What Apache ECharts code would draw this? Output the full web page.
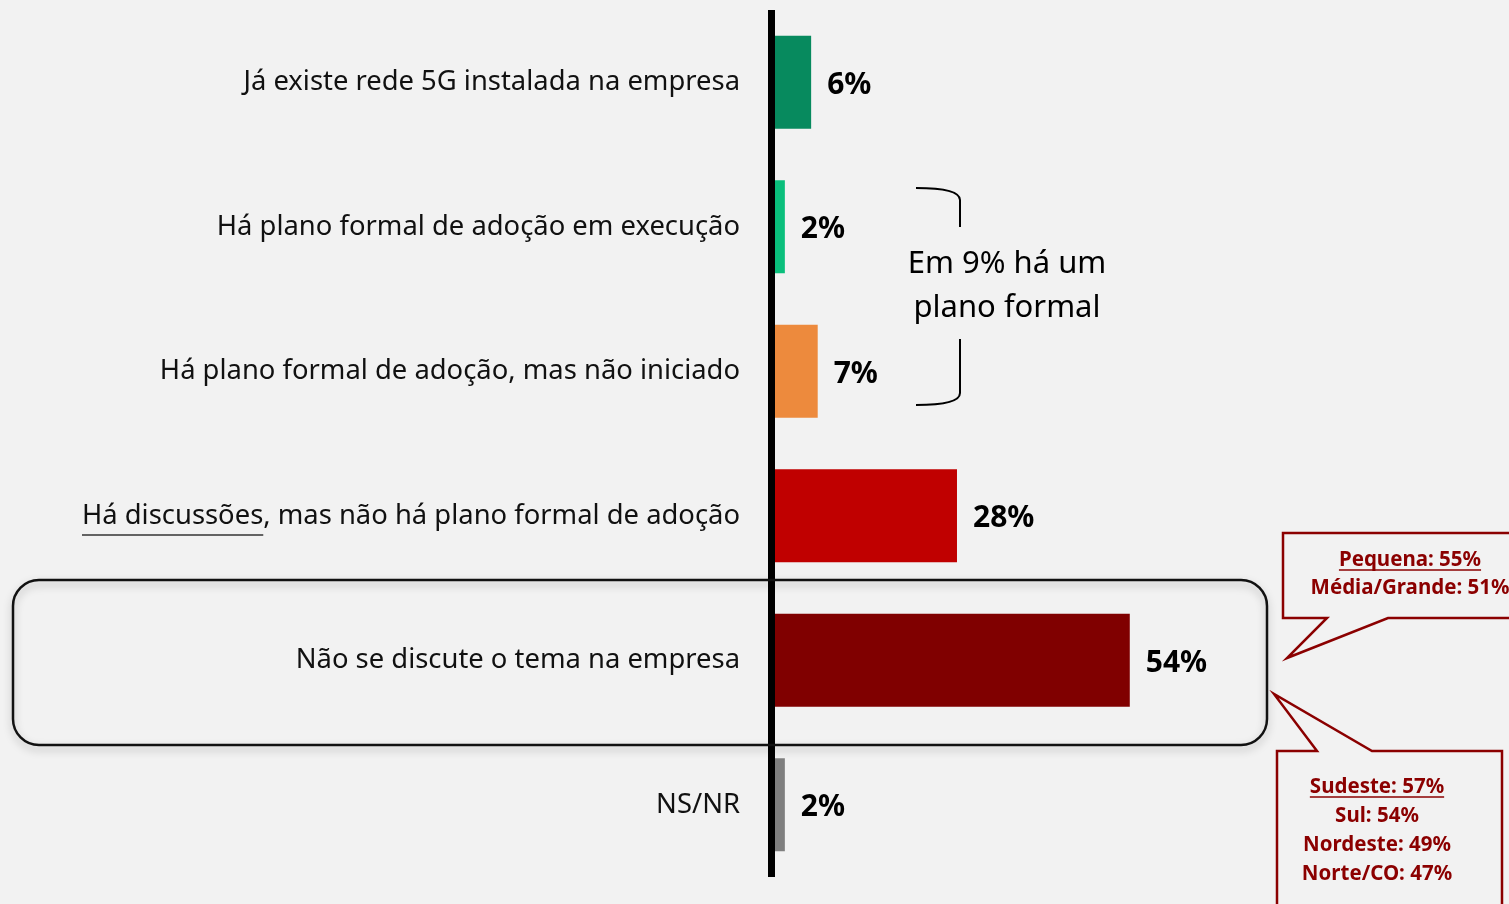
<!DOCTYPE html>
<html>
<head>
<meta charset="utf-8">
<script src="https://cdn.jsdelivr.net/npm/echarts@6/dist/echarts.min.js"></script>
<style>
  html, body { margin: 0; padding: 0; background: #F2F2F2; }
  #main { width: 1509px; height: 904px; }
</style>
</head>
<body>
<div id="main"></div>
<script>
(function() {
  // dados
  var categories = [
    "Já existe rede 5G instalada na empresa",
    "Há plano formal de adoção em execução",
    "Há plano formal de adoção, mas não iniciado",
    "Há discussões, mas não há plano formal de adoção",
    "Não se discute o tema na empresa",
    "NS/NR"
  ];
  var values = [5.5, 1.5, 6.5, 27.7, 54, 1.5];
  var valueLabels = ["6%", "2%", "7%", "28%", "54%", "2%"];
  var barColors = ["#078A5E", "#0ABF7C", "#ED8A3D", "#C00000", "#800000", "#7F7F7F"];
  var planNote = ["Em 9% há um", "plano formal"];
  var sizeNotes = ["Pequena: 55%", "Média/Grande: 51%"];
  var regionNotes = ["Sudeste: 57%", "Sul: 54%", "Nordeste: 49%", "Norte/CO: 47%"];

  var labelFont = '27.4px "Noto Sans"';
  var noteFont = 'bold 20.5px "Noto Sans"';
  var noteColor = "#8B0000";

  // largura de texto (para os sublinhados)
  var ctx = document.createElement("canvas").getContext("2d");
  function textWidth(str, font) {
    ctx.font = font;
    return ctx.measureText(str).width;
  }

  var myChart = echarts.init(document.getElementById("main"));

  var labelRight = 740;
  var fullW = textWidth(categories[3], labelFont);
  var partW = textWidth("Há discussões", labelFont);

  var graphics = [];

  // caixa arredondada em volta de "Não se discute"
  graphics.push({
    type: "rect",
    z: 1,
    shape: { x: 13, y: 580, width: 1254, height: 165, r: 26 },
    style: {
      fill: "none",
      stroke: "#111",
      lineWidth: 2.5,
      shadowBlur: 8,
      shadowOffsetY: 4,
      shadowColor: "rgba(0,0,0,0.28)"
    }
  });

  // sublinhado "Há discussões"
  graphics.push({
    type: "line",
    shape: { x1: labelRight - fullW, y1: 535, x2: labelRight - fullW + partW, y2: 535 },
    style: { stroke: "#333", lineWidth: 1.5 }
  });

  // chave
  var braceStyle = { fill: "none", stroke: "#000", lineWidth: 2 };
  graphics.push({
    type: "bezierCurve",
    shape: { x1: 916, y1: 188, cpx1: 960, cpy1: 188, x2: 960, y2: 200 },
    style: braceStyle
  });
  graphics.push({
    type: "line",
    shape: { x1: 960, y1: 200, x2: 960, y2: 227 },
    style: braceStyle
  });
  graphics.push({
    type: "line",
    shape: { x1: 960, y1: 339, x2: 960, y2: 393 },
    style: braceStyle
  });
  graphics.push({
    type: "bezierCurve",
    shape: { x1: 960, y1: 393, cpx1: 960, cpy1: 405, x2: 916, y2: 405 },
    style: braceStyle
  });
  planNote.forEach(function(t, i) {
    graphics.push({
      type: "text",
      style: {
        text: t, x: 1007, y: 264 + i * 44,
        font: '31px "Noto Sans"', fill: "#000",
        align: "center", verticalAlign: "middle"
      }
    });
  });

  // balões
  graphics.push({
    type: "polygon",
    z: 10,
    shape: {
      points: [[1283, 533], [1515, 533], [1515, 618], [1388, 618], [1287, 658], [1327, 618], [1283, 618]]
    },
    style: { fill: "#F2F2F2", stroke: noteColor, lineWidth: 2.5 }
  });
  graphics.push({
    type: "polygon",
    z: 10,
    shape: {
      points: [[1277, 751], [1317, 751], [1274, 694], [1372, 751], [1502, 751], [1502, 912], [1277, 912]]
    },
    style: { fill: "#F2F2F2", stroke: noteColor, lineWidth: 2.5 }
  });
  sizeNotes.forEach(function(t, i) {
    graphics.push({
      type: "text",
      z: 11,
      style: {
        text: t, x: 1410, y: 560 + i * 28,
        font: noteFont, fill: noteColor,
        align: "center", verticalAlign: "middle"
      }
    });
  });
  var w0 = textWidth(sizeNotes[0], noteFont);
  graphics.push({
    type: "line", z: 11,
    shape: { x1: 1410 - w0 / 2, y1: 570, x2: 1410 + w0 / 2, y2: 570 },
    style: { stroke: noteColor, lineWidth: 1.5 }
  });
  regionNotes.forEach(function(t, i) {
    graphics.push({
      type: "text",
      z: 11,
      style: {
        text: t, x: 1377, y: 787 + i * 29,
        font: noteFont, fill: noteColor,
        align: "center", verticalAlign: "middle"
      }
    });
  });
  var w1 = textWidth(regionNotes[0], noteFont);
  graphics.push({
    type: "line", z: 11,
    shape: { x1: 1377 - w1 / 2, y1: 797, x2: 1377 + w1 / 2, y2: 797 },
    style: { stroke: noteColor, lineWidth: 1.5 }
  });

  var option = {
    backgroundColor: "#F2F2F2",
    animation: false,
    grid: {
      left: 775,
      right: 77,
      top: 10,
      bottom: 27,
      containLabel: false
    },
    xAxis: {
      type: "value",
      min: 0,
      max: 100,
      show: false
    },
    yAxis: {
      type: "category",
      inverse: true,
      data: categories,
      offset: 4,
      axisLine: {
        show: true,
        onZero: false,
        lineStyle: { color: "#000", width: 7, cap: "butt" }
      },
      axisTick: { show: false },
      axisLabel: {
        margin: 31,
        color: "#111",
        fontSize: 27.4,
        fontFamily: "Noto Sans",
        lineHeight: 34,
        padding: [5, 0, 0, 0]
      }
    },
    series: [
      {
        type: "bar",
        barWidth: 93,
        z: 3,
        data: values.map(function(v, i) {
          return { value: v, itemStyle: { color: barColors[i] } };
        }),
        label: {
          show: true,
          position: "right",
          distance: 16,
          offset: [0, 3],
          color: "#000",
          fontSize: 30,
          fontWeight: "bold",
          fontFamily: "Noto Sans",
          formatter: function(p) {
            return valueLabels[p.dataIndex];
          }
        }
      }
    ],
    graphic: graphics
  };

  myChart.setOption(option);
  window.addEventListener("resize", function() {
    myChart.resize();
  });
})();
</script>
</body>
</html>
